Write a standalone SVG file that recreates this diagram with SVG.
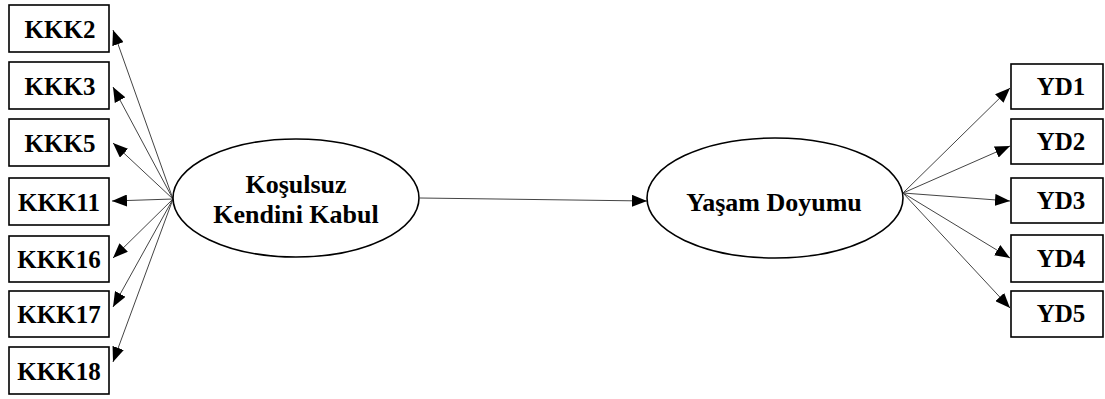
<svg xmlns="http://www.w3.org/2000/svg" width="1105" height="399" viewBox="0 0 1105 399">
<style>
.box{fill:#fff;stroke:#000;stroke-width:1.6}
.ell{fill:#fff;stroke:#000;stroke-width:1.6}
.t{font-family:'Liberation Serif','Times New Roman','DejaVu Serif',serif;font-weight:bold;font-size:25px;fill:#000;text-anchor:middle}
.e{font-size:26px}
.c{stroke:#444;stroke-width:1;fill:none;marker-end:url(#ah)}
</style>
<defs>
<marker id="ah" markerUnits="userSpaceOnUse" markerWidth="15" markerHeight="12" refX="15" refY="6" orient="auto">
<path d="M0,0 L15,6 L0,12 z" fill="#000"/>
</marker>
</defs>
<rect width="1105" height="399" fill="#fff"/>
<g id="connectors">
<line class="c" x1="173" y1="199" x2="113" y2="30"/>
<line class="c" x1="173" y1="199" x2="113" y2="87"/>
<line class="c" x1="173" y1="199" x2="113" y2="143"/>
<line class="c" x1="173" y1="199" x2="112" y2="201"/>
<line class="c" x1="173" y1="199" x2="113" y2="258"/>
<line class="c" x1="173" y1="199" x2="113" y2="307"/>
<line class="c" x1="173" y1="199" x2="113" y2="362"/>
<line class="c" x1="420" y1="198" x2="647" y2="201"/>
<line class="c" x1="903" y1="193" x2="1010" y2="88"/>
<line class="c" x1="903" y1="193" x2="1010" y2="146"/>
<line class="c" x1="903" y1="193" x2="1010" y2="201"/>
<line class="c" x1="903" y1="193" x2="1010" y2="258"/>
<line class="c" x1="903" y1="193" x2="1010" y2="308"/>
</g>
<g id="KKK2"><rect class="box" x="9" y="5" width="100" height="47"/><text class="t" x="60" y="38">KKK2</text></g>
<g id="KKK3"><rect class="box" x="9" y="62" width="100" height="47"/><text class="t" x="60" y="95">KKK3</text></g>
<g id="KKK5"><rect class="box" x="9" y="119" width="100" height="47"/><text class="t" x="60" y="152">KKK5</text></g>
<g id="KKK11"><rect class="box" x="9" y="178" width="100" height="47"/><text class="t" x="59" y="211">KKK11</text></g>
<g id="KKK16"><rect class="box" x="9" y="236" width="100" height="46"/><text class="t" x="59" y="268">KKK16</text></g>
<g id="KKK17"><rect class="box" x="9" y="291" width="100" height="46"/><text class="t" x="59" y="323">KKK17</text></g>
<g id="KKK18"><rect class="box" x="9" y="347" width="100" height="47"/><text class="t" x="59" y="380">KKK18</text></g>
<g id="KKB"><ellipse class="ell" cx="296" cy="198" rx="123" ry="59"/><text class="t e" x="296" y="193">Koşulsuz</text><text class="t e" x="296" y="223">Kendini Kabul</text></g>
<g id="YD"><ellipse class="ell" cx="775" cy="198" rx="128" ry="60"/><text class="t e" x="774" y="211">Yaşam Doyumu</text></g>
<g id="YD1"><rect class="box" x="1011" y="64" width="92" height="45"/><text class="t" x="1061" y="95">YD1</text></g>
<g id="YD2"><rect class="box" x="1011" y="119" width="92" height="45"/><text class="t" x="1061" y="150">YD2</text></g>
<g id="YD3"><rect class="box" x="1011" y="178" width="92" height="45"/><text class="t" x="1061" y="209">YD3</text></g>
<g id="YD4"><rect class="box" x="1011" y="235" width="92" height="47"/><text class="t" x="1061" y="267">YD4</text></g>
<g id="YD5"><rect class="box" x="1011" y="291" width="92" height="46"/><text class="t" x="1061" y="322">YD5</text></g>
</svg>
